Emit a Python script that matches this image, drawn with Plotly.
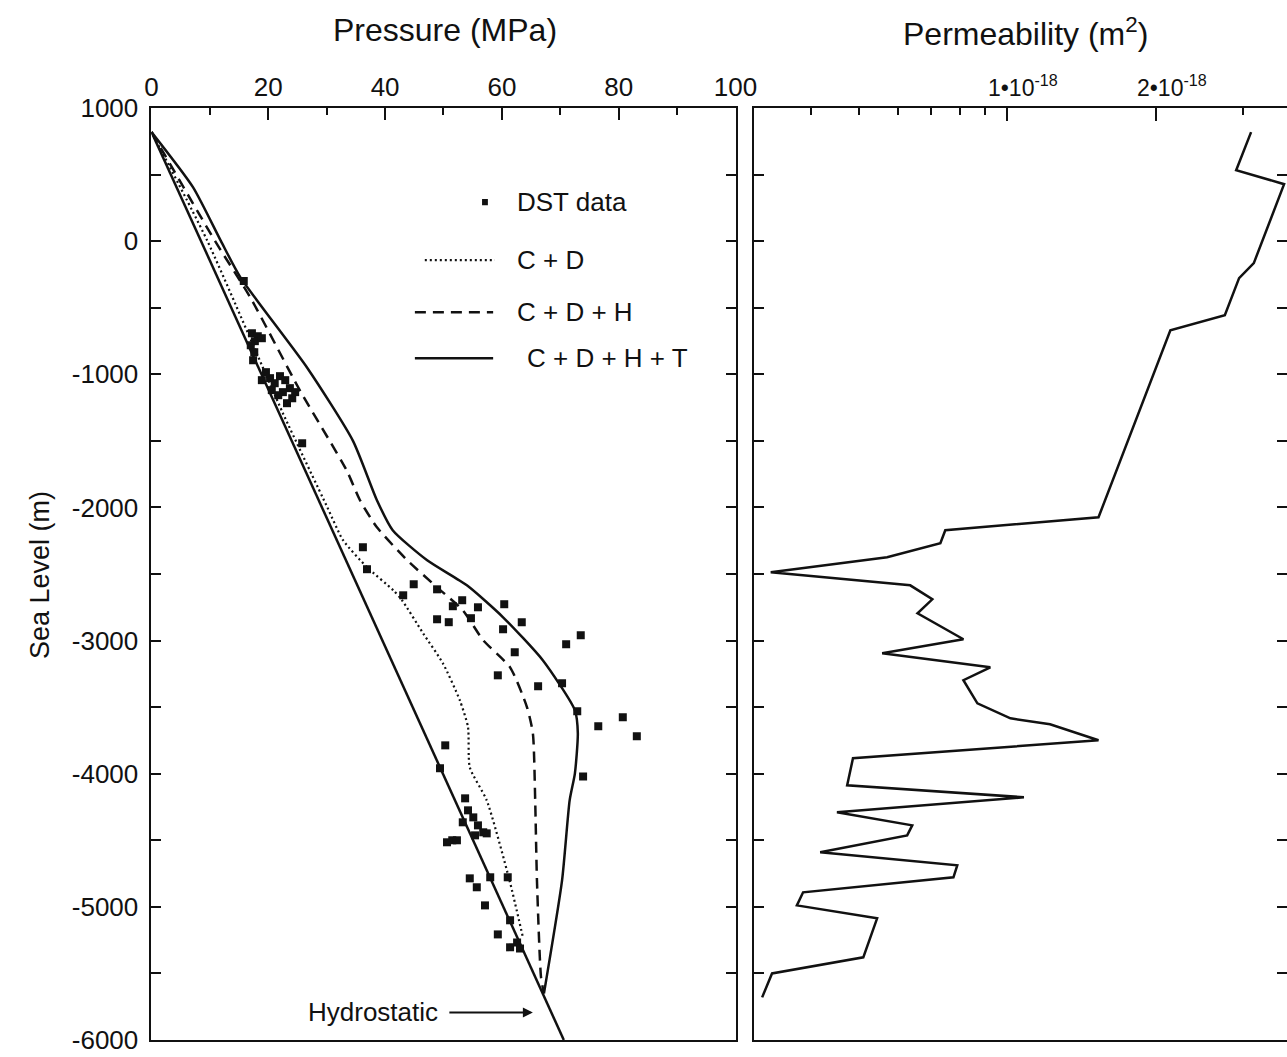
import math
import plotly.graph_objects as go

# ---------------- data ----------------
# Hydrostatic pressure line (MPa vs sea-level elevation, m)
hydro_p = [0.0, 70.6]
hydro_z = [820, -6000]

# C + D (dotted)
cd_p = [0.0, 9.5, 22.5, 30.1, 32.8, 36.9, 41.4, 42.9, 46.5, 49.9, 52.8, 54.2, 54.5, 57.4, 61.3, 63.6]
cd_z = [820, 8, -1292, -1998, -2246, -2449, -2622, -2697, -2945, -3171, -3449, -3651, -3952, -4200, -4801, -5229]

# C + D + H (dashed)
cdh_p = [0.0, 10.9, 16.9, 25.4, 33.4, 35.7, 38.6, 43.8, 48.9, 53.3, 56.8, 61.4, 64.3, 65.3, 65.7, 66.0, 66.7, 67.2]
cdh_z = [820, 0, -421, -1120, -1720, -1946, -2149, -2397, -2600, -2772, -2998, -3201, -3501, -3696, -4200, -4801, -5530, -5650]

# C + D + H + T (solid)
cdht_p = [0.0, 7.1, 11.9, 15.2, 26.6, 34.5, 38.6, 41.3, 47.2, 54.0, 60.2, 67.0, 72.5, 73.0, 72.5, 71.6, 70.3, 67.2]
cdht_z = [820, 406, 0, -270, -947, -1500, -1946, -2171, -2397, -2585, -2825, -3148, -3524, -3696, -3997, -4200, -4801, -5650]

# DST data
dst_p = [15.8, 17.2, 18.2, 17.7, 18.9, 17.0, 17.6, 17.4, 18.9, 20.3, 21.1, 22.0, 22.9, 23.7, 22.5,
         24.1, 23.2, 21.7, 20.6, 24.6, 19.6, 25.8,
         36.2, 36.9, 43.1, 44.9, 48.9, 53.2, 51.6, 55.9, 54.7, 48.9, 50.9, 60.4, 63.4, 60.2, 62.2,
         71.0, 73.5, 59.3, 66.2, 70.3, 72.9, 76.5, 80.7, 83.1, 50.3, 49.4, 73.9, 53.7,
         54.2, 55.1, 53.3, 55.9, 56.8, 55.4, 57.4, 51.5, 50.6, 52.3, 58.0, 54.5, 55.7, 57.1, 61.0,
         61.4, 59.3, 61.4, 62.6, 63.1]
dst_z = [-300, -691, -714, -751, -729, -781, -834, -894, -1044, -1029, -1067, -1014, -1044, -1104, -1134,
         -1180, -1217, -1157, -1119, -1134, -984, -1518,
         -2299, -2464, -2660, -2577, -2615, -2697, -2742, -2750, -2832, -2840, -2862, -2727, -2862, -2915, -3088,
         -3028, -2960, -3261, -3343, -3321, -3531, -3644, -3576, -3719, -3787, -3959, -4020, -4185,
         -4275, -4328, -4365, -4388, -4440, -4463, -4448, -4500, -4515, -4500, -4778, -4786, -4853, -4989, -4778,
         -5101, -5207, -5304, -5267, -5312]

# Permeability profile (m^2 vs elevation, m)
perm_k = [3.12e-18, 2.91e-18, 3.64e-18, 3.16e-18, 2.95e-18, 2.76e-18, 2.14e-18, 1.53e-18, 7.48e-19,
          7.31e-19, 5.70e-19, 3.31e-19, 6.35e-19, 7.04e-19, 6.57e-19, 8.14e-19, 5.57e-19, 9.23e-19,
          8.14e-19, 8.69e-19, 1.014e-18, 1.22e-18, 1.53e-18, 4.86e-19, 4.73e-19, 1.08e-18, 4.51e-19,
          6.41e-19, 6.26e-19, 4.17e-19, 7.91e-19, 7.77e-19, 3.85e-19, 3.74e-19, 5.44e-19, 5.10e-19,
          3.33e-19, 3.18e-19]
perm_z = [819, 533, 428, -165, -278, -556, -669, -2074, -2171,
          -2269, -2374, -2487, -2585, -2690, -2795, -2990, -3095, -3201,
          -3298, -3471, -3584, -3629, -3749, -3884, -4087, -4177, -4290,
          -4388, -4463, -4590, -4688, -4778, -4891, -4989, -5086, -5379,
          -5500, -5680]

# Tick definitions
p_ticks = [0, 20, 40, 60, 80, 100]
p_minor = [10, 30, 50, 70, 90]
z_ticks = [1000, 500, 0, -500, -1000, -1500, -2000, -2500, -3000, -3500, -4000, -4500, -5000, -5500, -6000]
z_text = ["1000", "", "0", "", "-1000", "", "-2000", "", "-3000", "", "-4000", "", "-5000", "", "-6000"]
k_ticks = [1e-18, 2e-18]
k_labels = ["1•10<sup>-18</sup>", "2•10<sup>-18</sup>"]
k_minor = [4e-19, 5e-19, 6e-19, 7e-19, 8e-19, 9e-19, 3e-18]

FONT = "Liberation Sans, Arial, Helvetica, sans-serif"
BLACK = "#111111"

fig = go.Figure()

fig.add_trace(go.Scatter(x=hydro_p, y=hydro_z, mode="lines", line=dict(color=BLACK, width=2.5),
                         xaxis="x", yaxis="y", hoverinfo="skip", showlegend=False))
fig.add_trace(go.Scatter(x=cd_p, y=cd_z, mode="lines",
                         line=dict(color=BLACK, width=2.2, dash="2px,3px", shape="spline", smoothing=0.6),
                         xaxis="x", yaxis="y", hoverinfo="skip", showlegend=False))
fig.add_trace(go.Scatter(x=cdh_p, y=cdh_z, mode="lines",
                         line=dict(color=BLACK, width=2.5, dash="11px,7px", shape="spline", smoothing=0.6),
                         xaxis="x", yaxis="y", hoverinfo="skip", showlegend=False))
fig.add_trace(go.Scatter(x=cdht_p, y=cdht_z, mode="lines",
                         line=dict(color=BLACK, width=2.5, shape="spline", smoothing=0.6),
                         xaxis="x", yaxis="y", hoverinfo="skip", showlegend=False))
fig.add_trace(go.Scatter(x=dst_p, y=dst_z, mode="markers",
                         marker=dict(symbol="square", size=8, color=BLACK, line=dict(width=0)),
                         xaxis="x", yaxis="y", hoverinfo="skip", showlegend=False))
fig.add_trace(go.Scatter(x=perm_k, y=perm_z, mode="lines", line=dict(color=BLACK, width=2.5),
                         xaxis="x2", yaxis="y2", hoverinfo="skip", showlegend=False))

ydom = [0.0161, 0.8978]
axis_common = dict(showline=True, linewidth=2, linecolor=BLACK, showgrid=False, zeroline=False,
                   ticks="inside", tickwidth=2, tickcolor=BLACK, automargin=False,
                   tickfont=dict(family=FONT, size=26, color=BLACK))

fig.update_layout(
    width=1287, height=1057,
    margin=dict(l=0, r=0, t=0, b=0),
    paper_bgcolor="white", plot_bgcolor="white",
    font=dict(family=FONT, color=BLACK),
    xaxis=dict(axis_common, domain=[0.1177, 0.5715], range=[0, 100], side="top", anchor="y",
               tickmode="array", tickvals=p_ticks, ticklen=12, mirror=True, ticklabelstandoff=0,
               minor=dict(tickmode="array", tickvals=p_minor, ticks="inside", ticklen=7, tickwidth=2,
                          tickcolor=BLACK, showgrid=False)),
    yaxis=dict(axis_common, domain=ydom, range=[-6000, 1000], anchor="x",
               tickmode="array", tickvals=z_ticks, ticktext=z_text, ticklen=10, mirror="allticks",
               ticklabelstandoff=6),
    xaxis2=dict(axis_common, domain=[0.5859, 1.0], type="log", range=[-18.514, -17.433], side="top",
                anchor="y2", tickmode="array", tickvals=k_ticks, ticktext=["", ""], ticklen=13,
                mirror=True,
                minor=dict(tickmode="array", tickvals=k_minor, ticks="inside", ticklen=7, tickwidth=2,
                           tickcolor=BLACK, showgrid=False)),
    yaxis2=dict(axis_common, domain=ydom, range=[-6000, 1000], anchor="x2",
                tickmode="array", tickvals=z_ticks, ticklen=10, mirror="allticks", showticklabels=False),
)

ann = []
ann.append(dict(text="Pressure (MPa)", x=445 / 1287, y=1 - 30 / 1057, xref="paper", yref="paper",
                showarrow=False, font=dict(family=FONT, size=32, color=BLACK), xanchor="center", yanchor="middle"))
ann.append(dict(text="Permeability (m<sup>2</sup>)", x=1025 / 1287, y=1 - 32 / 1057, xref="paper", yref="paper",
                showarrow=False, font=dict(family=FONT, size=32, color=BLACK), xanchor="center", yanchor="middle"))
ann.append(dict(text="Sea Level (m)", x=40 / 1287, y=1 - 575 / 1057, xref="paper", yref="paper",
                showarrow=False, textangle=-90, font=dict(family=FONT, size=27, color=BLACK),
                xanchor="center", yanchor="middle"))

# permeability tick labels (log axis: annotation x given in log10 units)
for kv, kl in zip(k_ticks, k_labels):
    ann.append(dict(text=kl, x=math.log10(kv), y=1 - 86 / 1057, xref="x2", yref="paper", xshift=16,
                    showarrow=False, font=dict(family=FONT, size=23, color=BLACK),
                    xanchor="center", yanchor="middle"))

# legend texts (axis coordinates of panel 1)
leg_font = dict(family=FONT, size=26, color=BLACK)
ann.append(dict(text="DST data", x=62.2, y=293, xref="x", yref="y", showarrow=False, font=leg_font,
                xanchor="left", yanchor="middle"))
ann.append(dict(text="C + D", x=62.2, y=-143, xref="x", yref="y", showarrow=False, font=leg_font,
                xanchor="left", yanchor="middle"))
ann.append(dict(text="C + D + H", x=62.2, y=-533, xref="x", yref="y", showarrow=False, font=leg_font,
                xanchor="left", yanchor="middle"))
ann.append(dict(text="C + D + H + T", x=64.0, y=-879, xref="x", yref="y", showarrow=False, font=leg_font,
                xanchor="left", yanchor="middle"))

# hydrostatic arrow annotation
ann.append(dict(text="Hydrostatic", x=65.3, y=-5793, xref="x", yref="y", ax=-160, ay=0,
                showarrow=True, arrowhead=2, arrowsize=1, arrowwidth=2, arrowcolor=BLACK,
                startstandoff=10, font=dict(family=FONT, size=26, color=BLACK)))
fig.update_layout(annotations=ann)

shapes = []
shapes.append(dict(type="rect", xref="x", yref="y", x0=56.6, x1=57.6, y0=270, y1=316,
                   fillcolor=BLACK, line=dict(width=0)))
shapes.append(dict(type="line", xref="x", yref="y", x0=46.8, x1=58.8, y0=-143, y1=-143,
                   line=dict(color=BLACK, width=2.2, dash="2px,3px")))
shapes.append(dict(type="line", xref="x", yref="y", x0=45.1, x1=58.5, y0=-533, y1=-533,
                   line=dict(color=BLACK, width=2.5, dash="11px,7px")))
shapes.append(dict(type="line", xref="x", yref="y", x0=45.1, x1=58.5, y0=-879, y1=-879,
                   line=dict(color=BLACK, width=2.5)))
fig.update_layout(shapes=shapes)

fig.write_html("out.html")
